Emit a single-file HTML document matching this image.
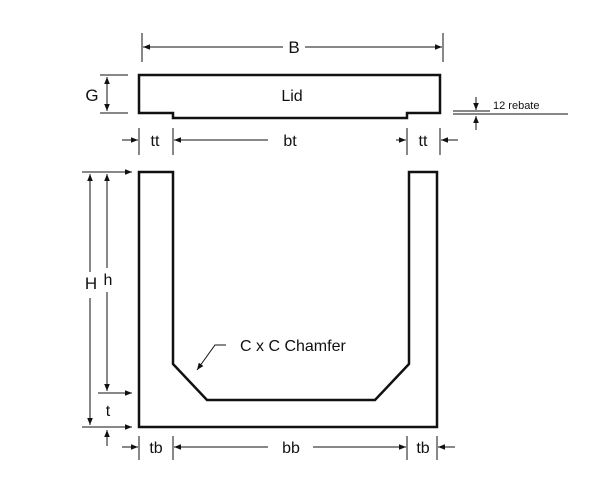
<!DOCTYPE html>
<html><head><style>body{margin:0;background:#fff}svg{display:block}</style></head><body>
<svg width="600" height="500" viewBox="0 0 600 500" xmlns="http://www.w3.org/2000/svg" font-family="Liberation Sans, sans-serif" fill="#111">
<defs><marker id="a" viewBox="0 0 10 10" refX="10" refY="5" markerWidth="7" markerHeight="7" orient="auto-start-reverse"><path d="M0,1 L10,5 L0,9z" fill="#111"/></marker></defs>
<g stroke="#111" stroke-width="1" fill="none">
<!-- B -->
<line x1="142" y1="33" x2="142" y2="62"/><line x1="443" y1="33" x2="443" y2="62"/>
<line x1="143" y1="47" x2="283" y2="47" marker-start="url(#a)"/>
<line x1="305" y1="47" x2="442" y2="47" marker-end="url(#a)"/>
<!-- Lid -->
<path d="M139,75 H440 V113 H407 V118 H173 V113 H139 Z" stroke-width="2.5"/>
<!-- G -->
<line x1="100" y1="75" x2="128" y2="75"/><line x1="100" y1="113" x2="128" y2="113"/>
<line x1="107" y1="77" x2="107" y2="111" marker-start="url(#a)" marker-end="url(#a)"/>
<!-- rebate -->
<line x1="476" y1="97" x2="476" y2="110" marker-end="url(#a)"/>
<line x1="476" y1="130" x2="476" y2="116" marker-end="url(#a)"/>
<line x1="453" y1="111" x2="490" y2="111"/><line x1="453" y1="114" x2="568" y2="114"/>
<!-- tt bt -->
<line x1="139" y1="128" x2="139" y2="155"/><line x1="173" y1="128" x2="173" y2="155"/>
<line x1="407" y1="128" x2="407" y2="155"/><line x1="440" y1="128" x2="440" y2="155"/>
<line x1="122" y1="140" x2="138" y2="140" marker-end="url(#a)"/>
<line x1="268" y1="140" x2="174" y2="140" marker-end="url(#a)"/>
<line x1="396" y1="140" x2="406" y2="140" marker-end="url(#a)"/>
<line x1="458" y1="140" x2="441" y2="140" marker-end="url(#a)"/>
<!-- U -->
<path d="M139,172 H173 V364 L207,400 H375 L409,364 V172 H437 V427 H139 Z" stroke-width="2.5"/>
<!-- H h t -->
<line x1="82" y1="172" x2="132" y2="172" marker-end="url(#a)"/>
<line x1="98" y1="393" x2="132" y2="393" marker-end="url(#a)"/>
<line x1="82" y1="427" x2="132" y2="427" marker-end="url(#a)"/>
<line x1="90" y1="174" x2="90" y2="272" marker-start="url(#a)"/>
<line x1="90" y1="298" x2="90" y2="425" marker-end="url(#a)"/>
<line x1="107" y1="174" x2="107" y2="268" marker-start="url(#a)"/>
<line x1="107" y1="292" x2="107" y2="391" marker-end="url(#a)"/>
<line x1="107" y1="446" x2="107" y2="430" marker-end="url(#a)"/>
<!-- chamfer leader -->
<path d="M226,345 H215 L197,370" marker-end="url(#a)"/>
<!-- tb bb -->
<line x1="139" y1="436" x2="139" y2="460"/><line x1="173" y1="436" x2="173" y2="460"/>
<line x1="407" y1="436" x2="407" y2="460"/><line x1="437" y1="436" x2="437" y2="460"/>
<line x1="122" y1="447" x2="138" y2="447" marker-end="url(#a)"/>
<line x1="268" y1="447" x2="174" y2="447" marker-end="url(#a)"/>
<line x1="313" y1="447" x2="406" y2="447" marker-end="url(#a)"/>
<line x1="455" y1="447" x2="438" y2="447" marker-end="url(#a)"/>
</g>
<g font-size="16">
<text x="294" y="53" text-anchor="middle" font-size="17">B</text>
<text x="292" y="101" text-anchor="middle">Lid</text>
<text x="92" y="101" text-anchor="middle" font-size="17">G</text>
<text x="493" y="109" font-size="11">12 rebate</text>
<text x="155" y="146" text-anchor="middle">tt</text>
<text x="290" y="146" text-anchor="middle">bt</text>
<text x="423" y="146" text-anchor="middle">tt</text>
<text x="91" y="289" text-anchor="middle" font-size="17">H</text>
<text x="108" y="285" text-anchor="middle">h</text>
<text x="108" y="416" text-anchor="middle">t</text>
<text x="240" y="351">C x C Chamfer</text>
<text x="156" y="453" text-anchor="middle">tb</text>
<text x="291" y="453" text-anchor="middle">bb</text>
<text x="423" y="453" text-anchor="middle">tb</text>
</g>
</svg>
</body></html>
